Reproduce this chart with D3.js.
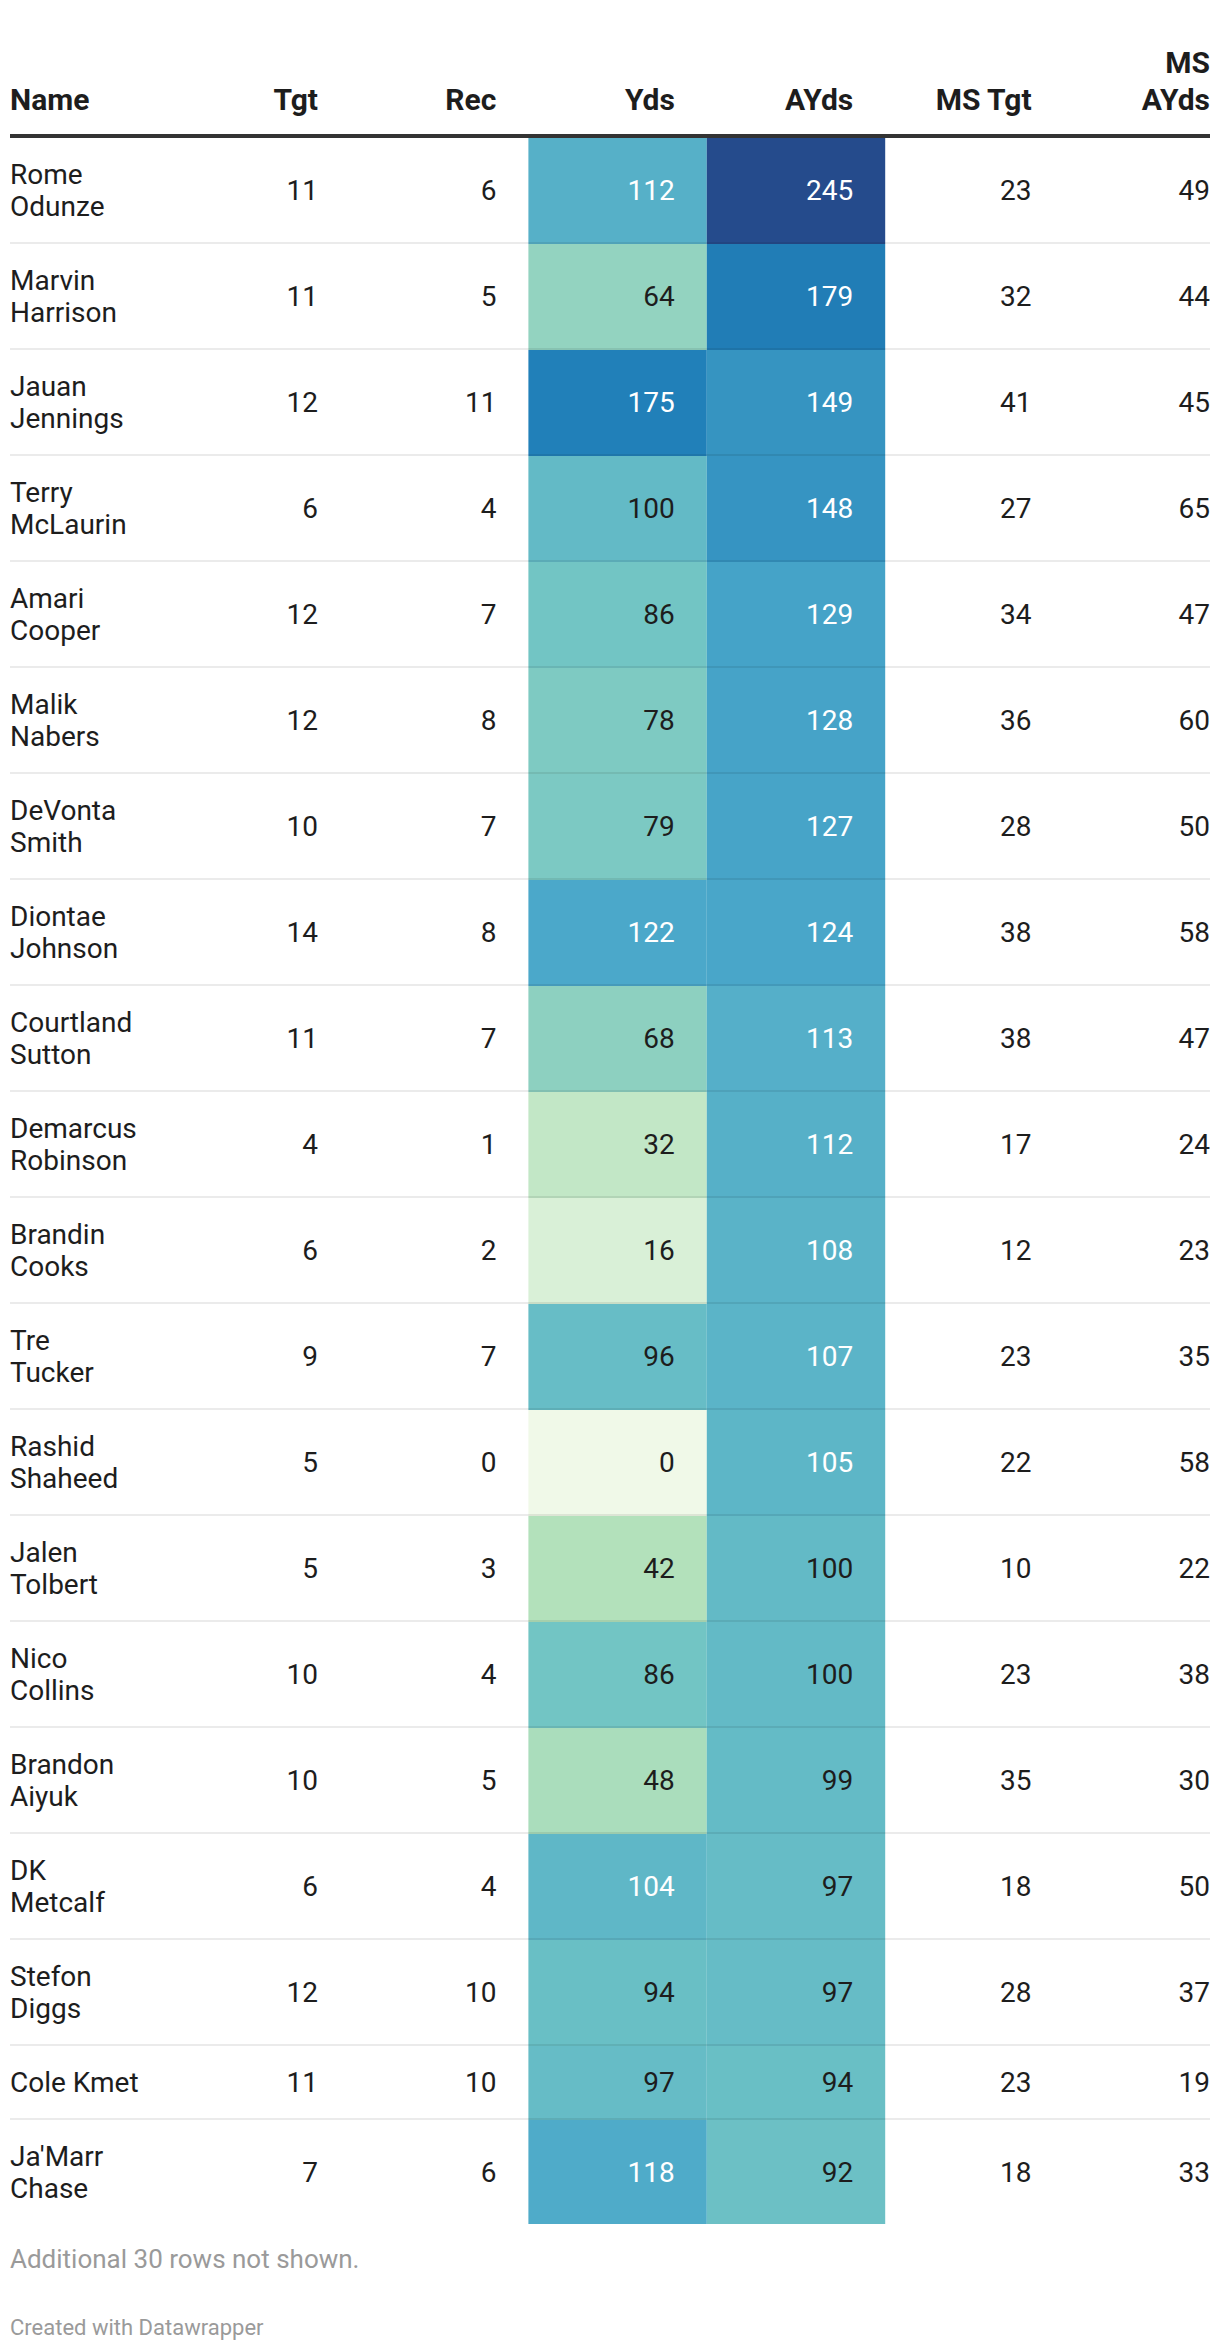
<!DOCTYPE html>
<html>
<head>
<meta charset="utf-8">
<script src="https://cdn.jsdelivr.net/npm/d3@7"></script>
<style>
  html, body { margin: 0; padding: 0; background: #fff; }
  svg { display: block; font-family: Roboto, "Noto Sans", sans-serif; }
</style>
</head>
<body>
<svg id="chart" width="1220" height="2350"></svg>
<script>
// ---- data ----
const headers = ["Name", "Tgt", "Rec", "Yds", "AYds", "MS Tgt", "MS\nAYds"];
const names = [
  "Rome\nOdunze", "Marvin\nHarrison", "Jauan\nJennings", "Terry\nMcLaurin", "Amari\nCooper",
  "Malik\nNabers", "DeVonta\nSmith", "Diontae\nJohnson", "Courtland\nSutton", "Demarcus\nRobinson",
  "Brandin\nCooks", "Tre\nTucker", "Rashid\nShaheed", "Jalen\nTolbert", "Nico\nCollins",
  "Brandon\nAiyuk", "DK\nMetcalf", "Stefon\nDiggs", "Cole Kmet", "Ja'Marr\nChase"
];
const tgt   = [11, 11, 12, 6, 12, 12, 10, 14, 11, 4, 6, 9, 5, 5, 10, 10, 6, 12, 11, 7];
const rec   = [6, 5, 11, 4, 7, 8, 7, 8, 7, 1, 2, 7, 0, 3, 4, 5, 4, 10, 10, 6];
const yds   = [112, 64, 175, 100, 86, 78, 79, 122, 68, 32, 16, 96, 0, 42, 86, 48, 104, 94, 97, 118];
const ayds  = [245, 179, 149, 148, 129, 128, 127, 124, 113, 112, 108, 107, 105, 100, 100, 99, 97, 97, 94, 92];
const msTgt = [23, 32, 41, 27, 34, 36, 28, 38, 38, 17, 12, 23, 22, 10, 23, 35, 18, 28, 23, 18];
const msAyds = [49, 44, 45, 65, 47, 60, 50, 58, 47, 24, 23, 35, 58, 22, 38, 30, 50, 37, 19, 33];
const footNote = "Additional 30 rows not shown.";
const credit = "Created with Datawrapper";

// heatmap colour stops
const heatDomain = [0, 42, 86, 122, 175, 245];
const heatRange = ["#f0f9e8", "#b3e1bb", "#72c5c4", "#4ba8ca", "#2180b9", "#254b8c"];
const whiteTextAbove = 101;

// ---- layout ----
const W = 1220, left = 10, right = 1210;
const fontSize = 28, headFontSize = 30, lineH = 32, rowPad = 42, border = 2;
const headerBaseline = 110, headerLineH = 37, ruleY = 134, ruleH = 4;
const tableTop = ruleY + ruleH;

const numCols = [
  {key: "Tgt", vals: tgt, heat: false},
  {key: "Rec", vals: rec, heat: false},
  {key: "Yds", vals: yds, heat: true},
  {key: "AYds", vals: ayds, heat: true},
  {key: "MS Tgt", vals: msTgt, heat: false},
  {key: "MS AYds", vals: msAyds, heat: false}
];

const x = d3.scalePoint().domain(numCols.map(c => c.key)).range([318, right]);
const step = x.step();
const cellRightPad = 32;
const color = d3.scaleLinear().domain(heatDomain).range(heatRange).interpolate(d3.interpolateRgb);

// rows
const rows = names.map((n, i) => ({
  lines: n.split("\n"),
  i
}));
let yCur = tableTop;
rows.forEach(r => {
  r.h = r.lines.length * lineH + rowPad;
  r.top = yCur;
  r.center = yCur + (r.h - border) / 2;
  yCur += r.h;
});

const svg = d3.select("#chart");
const textColor = "#1d1d1d";

// header
const headKeys = ["Name"].concat(numCols.map(c => c.key));
const hg = svg.append("g").attr("font-weight", 700).attr("font-size", headFontSize).attr("fill", textColor);
headers.forEach((h, j) => {
  const lines = h.split("\n");
  const t = hg.append("text")
    .attr("x", j === 0 ? left : x(headKeys[j]))
    .attr("text-anchor", j === 0 ? "start" : "end");
  lines.forEach((ln, k) => {
    t.append("tspan")
      .attr("x", j === 0 ? left : x(headKeys[j]))
      .attr("y", headerBaseline - (lines.length - 1 - k) * headerLineH)
      .text(ln);
  });
});
svg.append("rect").attr("x", left).attr("y", ruleY).attr("width", right - left).attr("height", ruleH).attr("fill", "#333");

// heat cells
numCols.filter(c => c.heat).forEach(c => {
  svg.append("g").selectAll("rect").data(rows).join("rect")
    .attr("x", x(c.key) - step + cellRightPad)
    .attr("y", r => r.top)
    .attr("width", step)
    .attr("height", r => (r.i === rows.length - 1) ? r.h - border : r.h)
    .attr("fill", r => color(c.vals[r.i]));
});

// separators
svg.append("g").selectAll("rect").data(rows.slice(0, rows.length - 1)).join("rect")
  .attr("x", left).attr("width", right - left)
  .attr("y", r => r.top + r.h - border).attr("height", border)
  .attr("fill", "rgba(0,0,0,0.08)");

// names
const ng = svg.append("g").attr("font-size", fontSize).attr("fill", textColor);
rows.forEach(r => {
  const t = ng.append("text").attr("x", left);
  r.lines.forEach((ln, k) => {
    t.append("tspan").attr("x", left)
      .attr("y", r.center + (k - (r.lines.length - 1) / 2) * lineH)
      .attr("dy", "0.355em")
      .text(ln);
  });
});

// numbers
numCols.forEach(c => {
  svg.append("g").attr("font-size", fontSize).attr("text-anchor", "end")
    .selectAll("text").data(rows).join("text")
    .attr("x", x(c.key))
    .attr("y", r => r.center)
    .attr("dy", "0.355em")
    .attr("fill", r => (c.heat && c.vals[r.i] > whiteTextAbove) ? "#fff" : textColor)
    .text(r => c.vals[r.i]);
});

// footer
svg.append("text").attr("x", left).attr("y", 2268).attr("font-size", 26).attr("fill", "#9a9a9a").text(footNote);
svg.append("text").attr("x", left).attr("y", 2335).attr("font-size", 22).attr("fill", "#9a9a9a").text(credit);
</script>
</body>
</html>
